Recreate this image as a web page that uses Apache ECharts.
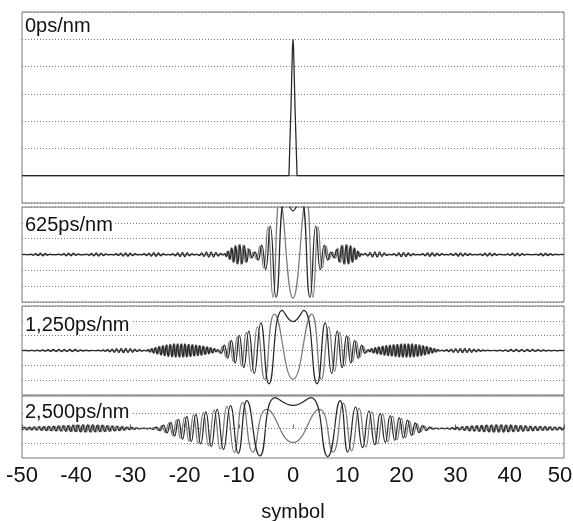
<!DOCTYPE html>
<html>
<head>
<meta charset="utf-8">
<script src="https://cdn.jsdelivr.net/npm/echarts@6/dist/echarts.min.js"></script>
<style>html,body{margin:0;padding:0;background:#fff}#c{width:573px;height:521px}</style>
</head>
<body>
<div id="c"></div>
<script>
// ---- data (x in symbols, y in panel grid units) ----
const panelLabels = ['0ps/nm', '625ps/nm', '1,250ps/nm', '2,500ps/nm'];
const xTicks = { min: -50, max: 50, step: 10 };

// 0 ps/nm
const d0 = [[-50,0],[-0.75,0],[-0.55,0.27],[-0.37,0.5],[-0.22,0.75],[-0.1,0.94],[0,1],[0.1,0.94],[0.22,0.75],[0.37,0.5],[0.55,0.27],[0.75,0],[50,0]];
const g0 = [[-50,0],[50,0]];

// 625 ps/nm
const d625OuterL = [[-50,0],[-49.6,0.01],[-48.9,-0.01],[-48.36,0.02],[-47.92,-0.04],[-47.48,0.05],[-47.04,-0.07],[-46.6,0.08],[-46.16,-0.08],[-45.72,0.07],[-45.28,-0.05],[-44.84,0.03],[-44.4,-0.01],[-43.8,-0.01],[-43.16,0.03],[-42.72,-0.04],[-42.28,0.06],[-41.84,-0.08],[-41.4,0.09],[-40.96,-0.09],[-40.52,0.08],[-40.08,-0.06],[-39.64,0.04],[-39.2,-0.02],[-38.6,-0.01],[-38.06,0.03],[-37.62,-0.05],[-37.18,0.07],[-36.74,-0.09],[-36.3,0.1],[-35.86,-0.1],[-35.42,0.09],[-34.98,-0.07],[-34.54,0.04],[-34.1,-0.02],[-33.6,0.01],[-33.1,-0.03],[-32.66,0.05],[-32.22,-0.07],[-31.78,0.09],[-31.34,-0.1],[-30.9,0.11],[-30.46,-0.11],[-30.02,0.09],[-29.58,-0.07],[-29.14,0.05],[-28.7,-0.02],[-28.3,0.01],[-27.9,-0.02],[-27.46,0.05],[-27.02,-0.07],[-26.58,0.09],[-26.14,-0.11],[-25.7,0.12],[-25.26,-0.12],[-24.82,0.1],[-24.38,-0.08],[-23.94,0.05],[-23.5,-0.02],[-23,0.01],[-22.6,-0.03],[-22.16,0.06],[-21.72,-0.09],[-21.28,0.11],[-20.84,-0.13],[-20.4,0.14],[-19.96,-0.14],[-19.52,0.12],[-19.08,-0.09],[-18.64,0.06],[-18.2,-0.03],[-17.74,0.03],[-17.3,-0.07],[-16.86,0.1],[-16.42,-0.13],[-15.98,0.16],[-15.54,-0.17],[-15.1,0.17],[-14.66,-0.16],[-14.22,0.13],[-13.78,-0.1],[-13.34,0.07],[-12.9,-0.03]];
const d625Main = [[-12.6,0.06],[-12.29,-0.14],[-11.96,0.22],[-11.63,-0.32],[-11.29,0.42],[-10.93,-0.5],[-10.57,0.56],[-10.19,-0.6],[-9.8,0.62],[-9.39,-0.6],[-8.96,0.56],[-8.52,-0.47],[-8.04,0.33],[-7.54,-0.2],[-7,0.15],[-6.42,-0.35],[-5.77,0.6],[-5.05,-0.95],[-4.2,1.8],[-3.13,-2.7],[-1.4,3.7],[0,2.76],[1.4,3.7],[3.13,-2.7],[4.2,1.8],[5.05,-0.95],[5.77,0.6],[6.42,-0.35],[7,0.15],[7.54,-0.2],[8.04,0.33],[8.52,-0.47],[8.96,0.56],[9.39,-0.6],[9.8,0.62],[10.19,-0.6],[10.57,0.56],[10.93,-0.5],[11.29,0.42],[11.63,-0.32],[11.96,0.22],[12.29,-0.14],[12.6,0.06]];
const d625OuterR = [[12.9,-0.03],[13.34,0.07],[13.78,-0.1],[14.22,0.13],[14.66,-0.16],[15.1,0.17],[15.54,-0.17],[15.98,0.16],[16.42,-0.13],[16.86,0.1],[17.3,-0.07],[17.74,0.03],[18.2,-0.03],[18.64,0.06],[19.08,-0.09],[19.52,0.12],[19.96,-0.14],[20.4,0.14],[20.84,-0.13],[21.28,0.11],[21.72,-0.09],[22.16,0.06],[22.6,-0.03],[23,0.01],[23.5,-0.02],[23.94,0.05],[24.38,-0.08],[24.82,0.1],[25.26,-0.12],[25.7,0.12],[26.14,-0.11],[26.58,0.09],[27.02,-0.07],[27.46,0.05],[27.9,-0.02],[28.3,0.01],[28.7,-0.02],[29.14,0.05],[29.58,-0.07],[30.02,0.09],[30.46,-0.11],[30.9,0.11],[31.34,-0.1],[31.78,0.09],[32.22,-0.07],[32.66,0.05],[33.1,-0.03],[33.6,0.01],[34.1,-0.02],[34.54,0.04],[34.98,-0.07],[35.42,0.09],[35.86,-0.1],[36.3,0.1],[36.74,-0.09],[37.18,0.07],[37.62,-0.05],[38.06,0.03],[38.6,-0.01],[39.2,-0.02],[39.64,0.04],[40.08,-0.06],[40.52,0.08],[40.96,-0.09],[41.4,0.09],[41.84,-0.08],[42.28,0.06],[42.72,-0.04],[43.16,0.03],[43.8,-0.01],[44.4,-0.01],[44.84,0.03],[45.28,-0.05],[45.72,0.07],[46.16,-0.08],[46.6,0.08],[47.04,-0.07],[47.48,0.05],[47.92,-0.04],[48.36,0.02],[48.9,-0.01],[49.6,0.01],[50,0]];
const g625 = [[-50,0],[-12.6,0],[-12.44,-0.1],[-12.12,0.18],[-11.8,-0.27],[-11.46,0.37],[-11.11,-0.46],[-10.75,0.53],[-10.38,-0.58],[-10,0.62],[-9.6,-0.62],[-9.18,0.6],[-8.74,-0.52],[-8.28,0.4],[-7.8,-0.25],[-7.28,0.15],[-6.71,-0.3],[-6.1,0.55],[-5.42,-0.85],[-4.64,1.75],[-3.7,-2.7],[-2.43,3.5],[0,-2.76],[2.43,3.5],[3.7,-2.7],[4.64,1.75],[5.42,-0.85],[6.1,0.55],[6.71,-0.3],[7.28,0.15],[7.8,-0.25],[8.28,0.4],[8.74,-0.52],[9.18,0.6],[9.6,-0.62],[10,0.62],[10.38,-0.58],[10.75,0.53],[11.11,-0.46],[11.46,0.37],[11.8,-0.27],[12.12,0.18],[12.44,-0.1],[12.6,0],[50,0]];

// 1,250 ps/nm
const d1250OuterL = [[-50,0],[-49.2,0.01],[-48.7,-0.02],[-48.2,0.02],[-47.7,-0.03],[-47.2,0.03],[-46.7,-0.04],[-46.2,0.05],[-45.7,-0.05],[-45.2,0.06],[-44.7,-0.06],[-44.2,0.07],[-43.7,-0.07],[-43.2,0.08],[-42.7,-0.08],[-42.2,0.08],[-41.7,-0.08],[-41.2,0.08],[-40.7,-0.07],[-40.2,0.07],[-39.7,-0.06],[-39.2,0.05],[-38.7,-0.04],[-38.2,0.03],[-37.7,-0.02],[-37.2,0.01],[-36.4,-0.01],[-35.9,0.02],[-35.48,-0.03],[-35.06,0.04],[-34.64,-0.05],[-34.22,0.07],[-33.8,-0.09],[-33.38,0.1],[-32.96,-0.12],[-32.54,0.13],[-32.12,-0.14],[-31.7,0.15],[-31.28,-0.15],[-30.86,0.15],[-30.44,-0.14],[-30.02,0.13],[-29.6,-0.12],[-29.18,0.1],[-28.76,-0.08],[-28.34,0.06],[-27.92,-0.04],[-27.5,0.02],[-27.1,-0.03],[-26.78,0.06],[-26.44,-0.1],[-26.1,0.13],[-25.76,-0.17],[-25.42,0.2],[-25.08,-0.23],[-24.74,0.26],[-24.4,-0.3],[-24.06,0.32],[-23.72,-0.35],[-23.38,0.37],[-23.04,-0.4],[-22.7,0.41],[-22.36,-0.43],[-22.02,0.44],[-21.68,-0.44],[-21.34,0.45],[-21,-0.45],[-20.66,0.45],[-20.32,-0.44],[-19.98,0.44],[-19.64,-0.43],[-19.3,0.42],[-18.96,-0.41],[-18.62,0.4],[-18.28,-0.38],[-17.94,0.37],[-17.6,-0.35],[-17.26,0.33],[-16.92,-0.32],[-16.58,0.3],[-16.24,-0.27],[-15.9,0.25],[-15.56,-0.23],[-15.22,0.2],[-14.88,-0.17],[-14.54,0.13],[-14.2,-0.1]];
const d1250Main = [[-13.86,0.06],[-13.28,-0.2],[-12.68,0.36],[-12.04,-0.52],[-11.37,0.68],[-10.66,-0.85],[-9.9,1.0],[-9.07,-1.15],[-8.16,1.3],[-7.14,-1.55],[-5.94,1.87],[-4.43,-2.25],[-1.98,2.7],[0,1.95],[1.98,2.7],[4.43,-2.25],[5.94,1.87],[7.14,-1.55],[8.16,1.3],[9.07,-1.15],[9.9,1.0],[10.66,-0.85],[11.37,0.68],[12.04,-0.52],[12.68,0.36],[13.28,-0.2],[13.86,0.06]];
const d1250OuterR = [[14.2,-0.1],[14.54,0.13],[14.88,-0.17],[15.22,0.2],[15.56,-0.23],[15.9,0.25],[16.24,-0.27],[16.58,0.3],[16.92,-0.32],[17.26,0.33],[17.6,-0.35],[17.94,0.37],[18.28,-0.38],[18.62,0.4],[18.96,-0.41],[19.3,0.42],[19.64,-0.43],[19.98,0.44],[20.32,-0.44],[20.66,0.45],[21,-0.45],[21.34,0.45],[21.68,-0.44],[22.02,0.44],[22.36,-0.43],[22.7,0.41],[23.04,-0.4],[23.38,0.37],[23.72,-0.35],[24.06,0.32],[24.4,-0.3],[24.74,0.26],[25.08,-0.23],[25.42,0.2],[25.76,-0.17],[26.1,0.13],[26.44,-0.1],[26.78,0.06],[27.1,-0.03],[27.5,0.02],[27.92,-0.04],[28.34,0.06],[28.76,-0.08],[29.18,0.1],[29.6,-0.12],[30.02,0.13],[30.44,-0.14],[30.86,0.15],[31.28,-0.15],[31.7,0.15],[32.12,-0.14],[32.54,0.13],[32.96,-0.12],[33.38,0.1],[33.8,-0.09],[34.22,0.07],[34.64,-0.05],[35.06,0.04],[35.48,-0.03],[35.9,0.02],[36.4,-0.01],[37.2,0.01],[37.7,-0.02],[38.2,0.03],[38.7,-0.04],[39.2,0.05],[39.7,-0.06],[40.2,0.07],[40.7,-0.07],[41.2,0.08],[41.7,-0.08],[42.2,0.08],[42.7,-0.08],[43.2,0.08],[43.7,-0.07],[44.2,0.07],[44.7,-0.06],[45.2,0.06],[45.7,-0.05],[46.2,0.05],[46.7,-0.04],[47.2,0.03],[47.7,-0.03],[48.2,0.02],[48.7,-0.02],[49.2,0.01],[50,0]];
const g1250BurstL = [[-50,0],[-27.3,0],[-26.95,-0.04],[-26.61,0.08],[-26.27,-0.11],[-25.93,0.15],[-25.59,-0.18],[-25.25,0.21],[-24.91,-0.24],[-24.57,0.28],[-24.23,-0.31],[-23.89,0.33],[-23.55,-0.36],[-23.21,0.38],[-22.87,-0.4],[-22.53,0.42],[-22.19,-0.43],[-21.85,0.44],[-21.51,-0.44],[-21.17,0.45],[-20.83,-0.45],[-20.49,0.44],[-20.15,-0.44],[-19.81,0.43],[-19.47,-0.42],[-19.13,0.41],[-18.79,-0.4],[-18.45,0.39],[-18.11,-0.37],[-17.77,0.36],[-17.43,-0.34],[-17.09,0.32],[-16.75,-0.31],[-16.41,0.28],[-16.07,-0.26],[-15.73,0.24],[-15.39,-0.21],[-15.05,0.18],[-14.71,-0.15],[-14.37,0.11],[-14.05,0]];
const g1250Main = [[-13.57,-0.12],[-12.98,0.28],[-12.37,-0.45],[-11.71,0.6],[-11.02,-0.75],[-10.29,0.92],[-9.5,-1.05],[-8.63,1.22],[-7.67,-1.4],[-6.57,1.6],[-5.24,-1.95],[-3.43,2.45],[0,-1.95],[3.43,2.45],[5.24,-1.95],[6.57,1.6],[7.67,-1.4],[8.63,1.22],[9.5,-1.05],[10.29,0.92],[11.02,-0.75],[11.71,0.6],[12.37,-0.45],[12.98,0.28],[13.57,-0.12]];
const g1250BurstR = [[14.05,0],[14.37,0.11],[14.71,-0.15],[15.05,0.18],[15.39,-0.21],[15.73,0.24],[16.07,-0.26],[16.41,0.28],[16.75,-0.31],[17.09,0.32],[17.43,-0.34],[17.77,0.36],[18.11,-0.37],[18.45,0.39],[18.79,-0.4],[19.13,0.41],[19.47,-0.42],[19.81,0.43],[20.15,-0.44],[20.49,0.44],[20.83,-0.45],[21.17,0.45],[21.51,-0.44],[21.85,0.44],[22.19,-0.43],[22.53,0.42],[22.87,-0.4],[23.21,0.38],[23.55,-0.36],[23.89,0.33],[24.23,-0.31],[24.57,0.28],[24.91,-0.24],[25.25,0.21],[25.59,-0.18],[25.93,0.15],[26.27,-0.11],[26.61,0.08],[26.95,-0.04],[27.3,0],[50,0]];

// 2,500 ps/nm
const d2500OuterL = [[-50,-0.08],[-49.6,0.09],[-49.15,-0.09],[-48.7,0.1],[-48.25,-0.1],[-47.8,0.11],[-47.35,-0.11],[-46.9,0.12],[-46.45,-0.12],[-46,0.13],[-45.55,-0.14],[-45.1,0.14],[-44.65,-0.15],[-44.2,0.16],[-43.75,-0.16],[-43.3,0.17],[-42.85,-0.18],[-42.4,0.19],[-41.95,-0.19],[-41.5,0.2],[-41.05,-0.21],[-40.6,0.22],[-40.15,-0.22],[-39.7,0.23],[-39.25,-0.23],[-38.8,0.24],[-38.35,-0.24],[-37.9,0.24],[-37.45,-0.24],[-37,0.24],[-36.55,-0.23],[-36.1,0.23],[-35.65,-0.22],[-35.2,0.22],[-34.75,-0.21],[-34.3,0.2],[-33.85,-0.19],[-33.4,0.18],[-32.95,-0.17],[-32.5,0.16],[-32.05,-0.14],[-31.6,0.13],[-31.15,-0.11],[-30.7,0.1],[-30.25,-0.08],[-29.8,0.07],[-29.35,-0.05],[-28.9,0.04],[-28.45,-0.02],[-28,0.01],[-27.4,0.02],[-26.9,-0.03]];
const d2500Main = [[-26.41,0.03],[-25.81,-0.06],[-25.2,0.1],[-24.57,-0.15],[-23.92,0.22],[-23.26,-0.3],[-22.57,0.42],[-21.87,-0.52],[-21.14,0.62],[-20.38,-0.72],[-19.6,0.82],[-18.78,-0.9],[-17.93,0.97],[-17.03,-1.05],[-16.08,1.13],[-15.08,-1.22],[-14,1.3],[-12.83,-1.42],[-11.54,1.55],[-10.1,-1.68],[-8.5,1.88],[-6.1,-1.86],[-3.3,2.09],[0,1.56],[3.3,2.09],[6.4,-1.9],[8.7,1.88],[10.1,-1.6],[11.54,1.45],[12.83,-1.3],[14,1.18],[15.08,-1.1],[16.08,1.02],[17.03,-0.95],[17.93,0.87],[18.78,-0.8],[19.6,0.74],[20.38,-0.65],[21.14,0.56],[21.87,-0.47],[22.57,0.38],[23.26,-0.28],[23.92,0.2],[24.57,-0.14],[25.2,0.09],[25.81,-0.05],[26.41,0.03]];
const d2500OuterR = [[26.9,-0.03],[27.4,0.02],[28,-0.01],[28.45,0.02],[28.9,-0.04],[29.35,0.05],[29.8,-0.07],[30.25,0.08],[30.7,-0.1],[31.15,0.11],[31.6,-0.13],[32.05,0.14],[32.5,-0.16],[32.95,0.17],[33.4,-0.18],[33.85,0.19],[34.3,-0.2],[34.75,0.21],[35.2,-0.22],[35.65,0.22],[36.1,-0.23],[36.55,0.23],[37,-0.24],[37.45,0.24],[37.9,-0.24],[38.35,0.24],[38.8,-0.24],[39.25,0.23],[39.7,-0.23],[40.15,0.22],[40.6,-0.22],[41.05,0.21],[41.5,-0.2],[41.95,0.19],[42.4,-0.19],[42.85,0.18],[43.3,-0.17],[43.75,0.16],[44.2,-0.16],[44.65,0.15],[45.1,-0.14],[45.55,0.14],[46,-0.13],[46.45,0.12],[46.9,-0.12],[47.35,0.11],[47.8,-0.11],[48.25,0.1],[48.7,-0.1],[49.15,0.09],[49.6,-0.09],[50,0.08]];
const g2500OuterL = [[-50,0],[-49.8,-0.09],[-49.35,0.09],[-48.9,-0.1],[-48.45,0.1],[-48,-0.1],[-47.55,0.11],[-47.1,-0.11],[-46.65,0.12],[-46.2,-0.13],[-45.75,0.13],[-45.3,-0.14],[-44.85,0.15],[-44.4,-0.15],[-43.95,0.16],[-43.5,-0.17],[-43.05,0.17],[-42.6,-0.18],[-42.15,0.19],[-41.7,-0.2],[-41.25,0.2],[-40.8,-0.21],[-40.35,0.22],[-39.9,-0.22],[-39.45,0.23],[-39,-0.23],[-38.55,0.24],[-38.1,-0.24],[-37.65,0.24],[-37.2,-0.24],[-36.75,0.23],[-36.3,-0.23],[-35.85,0.22],[-35.4,-0.22],[-34.95,0.21],[-34.5,-0.2],[-34.05,0.19],[-33.6,-0.18],[-33.15,0.17],[-32.7,-0.16],[-32.25,0.15],[-31.8,-0.13],[-31.35,0.12],[-30.9,-0.1],[-30.45,0.09],[-30,-0.07],[-29.55,0.06],[-29.1,-0.04],[-28.65,0.03],[-28.2,-0.01],[-26.1,0]];
const g2500Main = [[-25.5,0.08],[-24.89,-0.12],[-24.25,0.18],[-23.6,-0.26],[-22.9,0.36],[-22.2,-0.46],[-21.5,0.56],[-20.77,-0.66],[-20,0.76],[-19.2,-0.85],[-18.36,0.92],[-17.49,-1.0],[-16.56,1.08],[-15.59,-1.17],[-14.55,1.25],[-13.43,-1.38],[-12.2,1.5],[-10.84,-1.62],[-9.29,1.75],[-7.41,-1.6],[-4.85,1.3],[0,-0.95],[4.85,1.3],[7.41,-1.6],[9.29,1.7],[10.84,-1.5],[12.2,1.36],[13.43,-1.25],[14.55,1.13],[15.59,-1.05],[16.56,0.98],[17.49,-0.9],[18.36,0.83],[19.2,-0.76],[20,0.68],[20.77,-0.6],[21.5,0.5],[22.2,-0.41],[22.9,0.32],[23.6,-0.23],[24.25,0.16],[24.89,-0.1],[25.5,0.07]];
const g2500OuterR = [[26.1,0],[28.2,-0.01],[28.65,0.03],[29.1,-0.04],[29.55,0.06],[30,-0.07],[30.45,0.09],[30.9,-0.1],[31.35,0.12],[31.8,-0.13],[32.25,0.15],[32.7,-0.16],[33.15,0.17],[33.6,-0.18],[34.05,0.19],[34.5,-0.2],[34.95,0.21],[35.4,-0.22],[35.85,0.22],[36.3,-0.23],[36.75,0.23],[37.2,-0.24],[37.65,0.24],[38.1,-0.24],[38.55,0.24],[39,-0.23],[39.45,0.23],[39.9,-0.22],[40.35,0.22],[40.8,-0.21],[41.25,0.2],[41.7,-0.2],[42.15,0.19],[42.6,-0.18],[43.05,0.17],[43.5,-0.17],[43.95,0.16],[44.4,-0.15],[44.85,0.15],[45.3,-0.14],[45.75,0.13],[46.2,-0.13],[46.65,0.12],[47.1,-0.11],[47.55,0.11],[48,-0.1],[48.45,0.1],[48.9,-0.1],[49.35,0.09],[49.8,-0.09],[50,0]];

// ---- layout / style ----
const FONT = '"Liberation Sans", Arial, Helvetica, sans-serif';
const grids = [
  { left: 22, right: 9, top: 12, height: 191 },
  { left: 22, right: 9, top: 207, height: 95 },
  { left: 22, right: 9, top: 306, height: 89 },
  { left: 22, right: 9, top: 396, height: 62 }
];
const yRanges = [
  { min: -0.2, max: 1.2, interval: 0.2, split: true },
  { min: -3, max: 3, interval: 1, split: true },
  { min: -3, max: 3, interval: 1, split: true },
  { min: -2, max: 2.2, interval: 1, split: false }
];
const titleTops = [16, 215, 315, 402];
const dotted = { type: [1, 2], color: '#7a7a7a', width: 1 };

const darkData = [d0, d625OuterL.concat(d625Main, d625OuterR), d1250OuterL.concat(d1250Main, d1250OuterR), d2500OuterL.concat(d2500Main, d2500OuterR)];
const grayData = [g0, g625, g1250BurstL.concat(g1250Main, g1250BurstR), g2500OuterL.concat(g2500Main, g2500OuterR)];
const series = [];
for (let i = 0; i < 4; i++) {
  const s = {
    type: 'line', xAxisIndex: i, yAxisIndex: i, data: grayData[i],
    symbol: 'none', smooth: i === 0 ? false : 0.5, animation: false,
    lineStyle: { color: '#7a7a7a', width: 1.25 }, z: 2
  };
  if (i === 3) {
    s.markLine = { silent: true, symbol: 'none', label: { show: false }, animation: false,
      lineStyle: dotted, data: [{ yAxis: -1 }, { yAxis: 0 }, { yAxis: 1 }] };
  }
  series.push(s);
  series.push({
    type: 'line', xAxisIndex: i, yAxisIndex: i, data: darkData[i],
    symbol: 'none', smooth: i === 0 ? false : 0.5, animation: false,
    lineStyle: { color: '#262626', width: 1.25 }, z: 3
  });
}

const option = {
  backgroundColor: '#fff',
  animation: false,
  title: panelLabels.map((t, i) => ({
    text: t, left: 23, top: titleTops[i], padding: [0, 2], backgroundColor: '#fff',
    textStyle: { fontFamily: FONT, fontSize: 20, fontWeight: 'normal', color: '#111' }
  })),
  grid: grids.map(g => Object.assign({ show: true, borderColor: '#777', borderWidth: 1, backgroundColor: 'transparent', containLabel: false, outerBoundsMode: 'none' }, g)),
  xAxis: grids.map((g, i) => ({
    type: 'value', gridIndex: i, min: xTicks.min, max: xTicks.max, interval: xTicks.step,
    axisLine: { show: false },
    axisTick: { show: i === 3, inside: true, length: 4, lineStyle: { color: '#666' } },
    axisLabel: {
      show: i === 3, fontFamily: FONT, fontSize: 22, color: '#111', margin: 7, hideOverlap: false,
      formatter: v => (v === xTicks.max ? '{r|' + v + '}' : String(v)),
      rich: { r: { fontFamily: FONT, fontSize: 22, color: '#111', padding: [0, 8, 0, 0] } }
    },
    splitLine: { show: false },
    name: i === 3 ? 'symbol' : '', nameLocation: 'middle', nameGap: 44,
    nameTextStyle: { fontFamily: FONT, fontSize: 20, color: '#111' }
  })),
  yAxis: yRanges.map((r, i) => ({
    type: 'value', gridIndex: i, min: r.min, max: r.max, interval: r.interval,
    axisLine: { show: false }, axisTick: { show: false }, axisLabel: { show: false },
    splitLine: { show: r.split, lineStyle: dotted }
  })),
  series: series
};
const chart = echarts.init(document.getElementById('c'), null, { renderer: 'canvas' });
chart.setOption(option);
</script>
</body>
</html>
